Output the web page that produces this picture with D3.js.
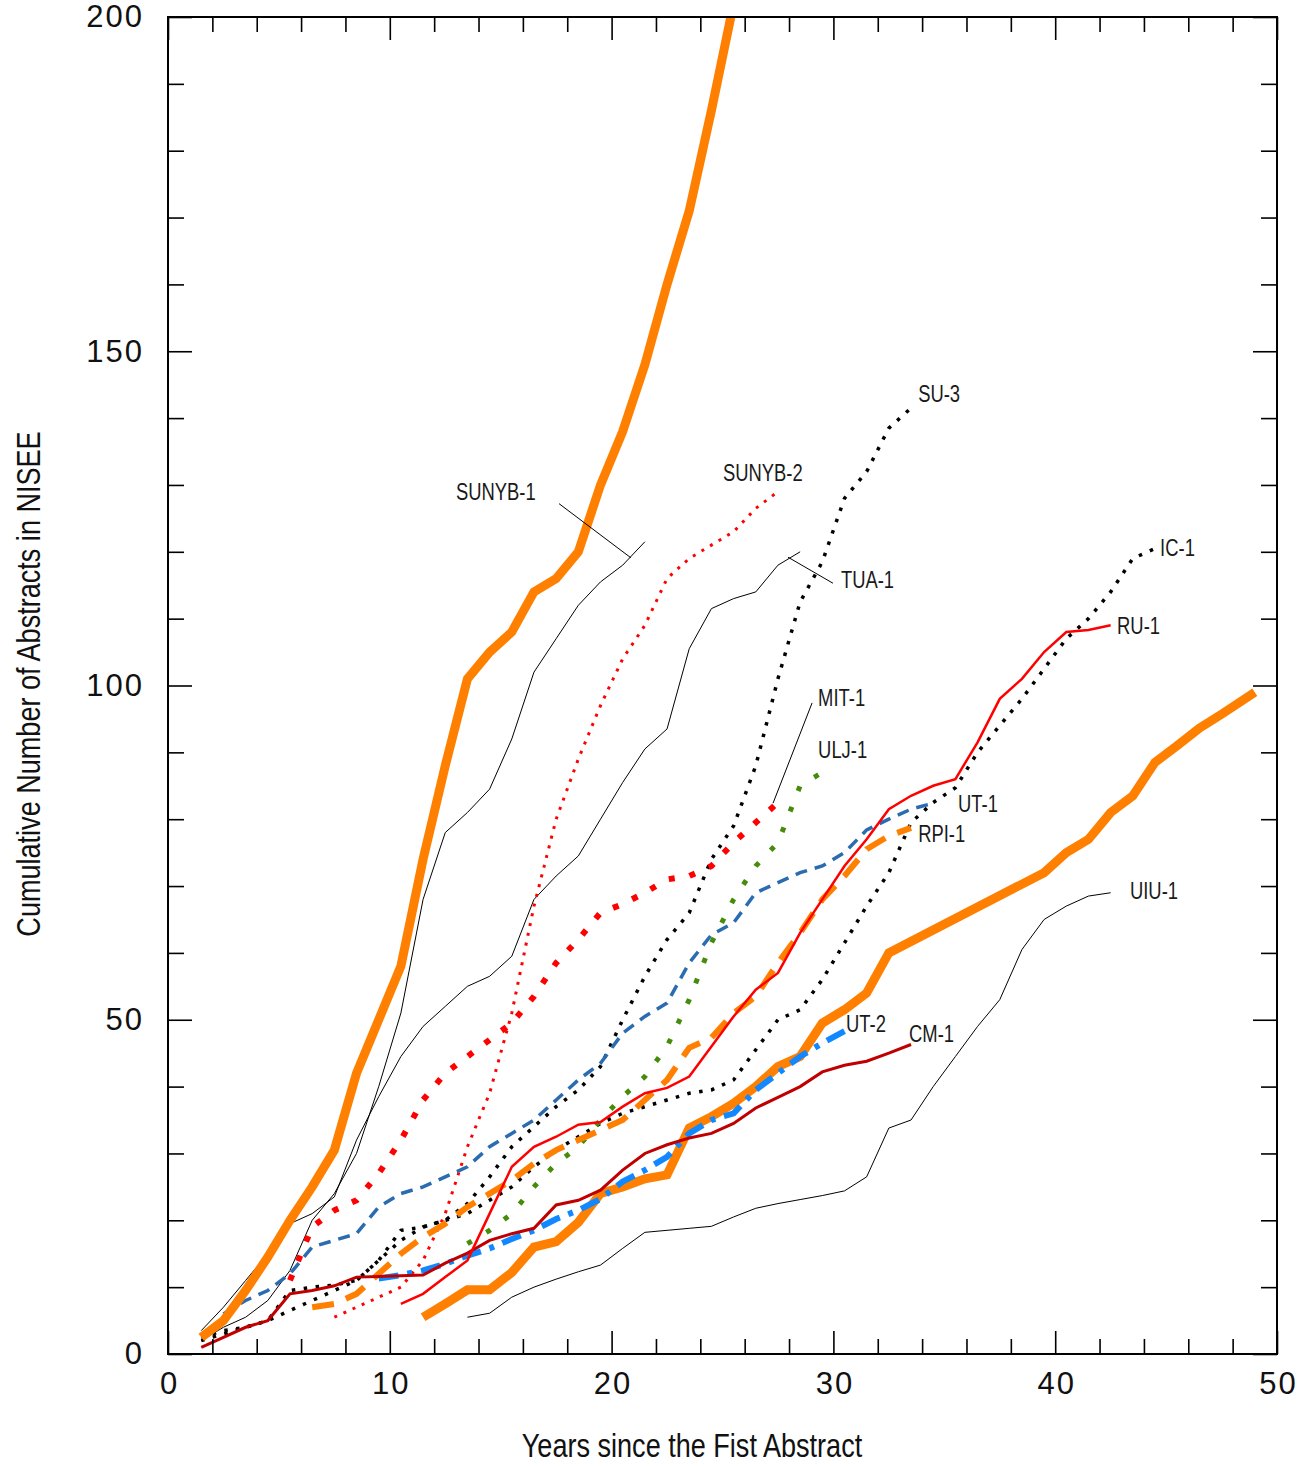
<!DOCTYPE html>
<html>
<head>
<meta charset="utf-8">
<script src="https://cdn.jsdelivr.net/npm/d3@7"></script>
<style>
  body { margin: 0; background: #fff; }
  svg { display: block; }
  text { font-family: "Liberation Sans", Arial, sans-serif; }
</style>
</head>
<body>
<script>
// ---------- data: cumulative number of abstracts per source ----------
const xTickLabels = [0, 10, 20, 30, 40, 50];
const yTickLabels = [0, 50, 100, 150, 200];
const xMinorTicks = [2, 4, 6, 8, 12, 14, 16, 18, 22, 24, 26, 28, 32, 34, 36, 38, 42, 44, 46, 48];
const yMinorTicks = [10, 20, 30, 40, 60, 70, 80, 90, 110, 120, 130, 140, 160, 170, 180, 190];

// series sampled yearly, first sample at the given start year
const orangeTopStart = 1.5;
const orangeTop = [2.5, 5, 9.5, 14.5, 20, 25, 30.5, 42, 50, 58, 74, 88, 101, 105, 108, 114, 116, 120, 130, 138, 148, 160, 171, 186, 202];

const sunyb1Start = 1.5;
const sunyb1 = [2, 4, 5.5, 8, 12.5, 20, 24, 30, 40, 51, 68, 78, 81, 84.5, 92, 102, 107, 112, 115.5, 118, 121.5];

const tua1Start = 1.5;
const tua1 = [3.5, 7, 11, 15, 19.5, 21, 23.5, 32, 38.5, 44.5, 49, 52, 55, 56.5, 59.5, 68, 71.5, 74.5, 80, 85.5, 90.5, 93.5, 105.5, 111.5, 113, 114, 118, 120];

const sunyb2Start = 7.5;
const sunyb2 = [5.5, 7, 8.5, 10, 14, 21, 31, 39, 51, 67, 80, 89, 97, 104, 109, 116, 119, 121, 123, 126.5, 129];

const su3Start = 1.5;
const su3 = [2.5, 3.5, 4, 5, 9.5, 10, 10.3, 11, 14, 18.5, 19, 20, 22.5, 26.5, 31, 34, 37, 39.5, 43, 50, 56.5, 62, 66, 74, 79, 88, 101, 112.5, 118.5, 128, 132, 138.5, 141.5];

const ic1Start = 1.5;
const ic1 = [2, 3, 4, 5, 6.5, 8, 9.5, 11, 14, 17, 19, 20, 21, 23, 25, 28, 30.5, 32.5, 34.5, 36, 37, 38, 39, 39.5, 41, 45.5, 50, 51.5, 56, 61.5, 67, 72, 79.5, 82.5, 84.7, 90, 94, 98, 102.5, 107, 110, 114, 119, 120.5];

const ru1Start = 10.5;
const ru1 = [7.5, 9, 11.5, 14, 21, 28, 31, 32.5, 34.3, 34.7, 37, 39, 39.8, 41.5, 46, 50.5, 54.5, 57, 63, 68, 73, 77, 81.5, 83.5, 85, 86, 91.5, 98, 101, 105, 108, 108.3, 109];

const mit1Start = 5.5;
const mit1 = [11, 19, 21.5, 23, 27, 32, 38, 42, 44.5, 47, 49.5, 53.5, 58.5, 62, 66, 67.3, 69, 71, 71.5, 73, 76.5, 79.5, 82.5];

const ulj1Start = 13.5;
const ulj1 = [16.5, 18.5, 21, 25, 28.5, 31, 35, 38.5, 41.5, 46, 53, 61.5, 68, 73, 76.5, 85, 87];

const ut1Start = 2.5;
const ut1 = [6, 8, 9.5, 12, 16, 17, 18, 22, 24, 25, 26.5, 28, 31, 33, 35, 38, 41, 43.5, 48, 50.5, 52.5, 58.5, 62.7, 64.5, 69, 70.5, 72, 73, 75, 78.4, 80, 81.5, 82.4];

const rpi1Start = 6.5;
const rpi1 = [7, 7.5, 9, 12, 15, 17.5, 19.5, 22, 24, 26, 28.5, 30.5, 32, 33.5, 35, 38, 41, 45.8, 47.3, 51, 53.5, 58.5, 63, 68, 71.5, 75.5, 77.5, 78.7];

const uiu1Start = 13.5;
const uiu1 = [5.5, 6.1, 8.5, 10, 11.2, 12.3, 13.3, 15.8, 18.2, 18.5, 18.8, 19.1, 20.5, 21.8, 22.5, 23.1, 23.7, 24.4, 26.5, 33.8, 35, 40, 44.5, 49, 53, 60.5, 65, 67, 68.5, 69];

const cm1Start = 1.5;
const cm1 = [1, 2.5, 4, 5, 9, 9.5, 10.2, 11.5, 11.6, 11.7, 11.8, 13.6, 15.1, 17, 18, 18.8, 22.3, 23, 24.5, 27.5, 30, 31.3, 32.3, 33, 34.5, 36.8, 38.4, 40, 42.2, 43.2, 43.8, 45, 46.3];

const ut2Start = 9.5;
const ut2 = [11.3, 11.8, 12.5, 13.5, 14.7, 15.8, 17.2, 18.5, 20.2, 21.5, 23.2, 25.8, 27.5, 29.5, 33, 35, 36, 39.5, 42, 44.5, 46.5, 48.3];

// this one has a gap in its yearly samples, so its years are listed
const orangeLowYears = [11.5, 12.5, 13.5, 14.5, 15.5, 16.5, 17.5, 18.5, 19.5, 20.5, 21.5, 22.5, 23.5, 24.5, 25.5, 26.5, 27.5, 28.5, 29.5, 30.5, 31.5, 32.5, 39.5, 40.5, 41.5, 42.5, 43.5, 44.5, 45.5, 46.5, 47.5, 49];
const orangeLow = [5.5, 7.5, 9.6, 9.6, 12.2, 16, 16.8, 19.7, 24, 25, 26.2, 26.8, 33.8, 35.5, 37.5, 40, 43, 44.5, 49.5, 51.5, 54, 60, 72, 75, 77, 81, 83.5, 88.5, 91, 93.6, 95.7, 99];

// ---------- layout ----------
const W = 1312, H = 1466;
const P = { left: 168, right: 1277, top: 17, bottom: 1354 };

const x = d3.scaleLinear().domain([0, 50]).range([P.left, P.right]);
const y = d3.scaleLinear().domain([0, 200]).range([P.bottom, P.top]);

const yearly = (start, vals) => vals.map((v, i) => [start + i, v]);
const paired = (xs, vals) => vals.map((v, i) => [xs[i], v]);

const ORANGE = "#ff8000";
const seriesDefs = [
  { pts: yearly(uiu1Start, uiu1),       stroke: "#000", width: 1 },
  { pts: yearly(tua1Start, tua1),       stroke: "#000", width: 1 },
  { pts: yearly(sunyb1Start, sunyb1),   stroke: "#000", width: 1 },
  { pts: yearly(sunyb2Start, sunyb2),   stroke: "#ff0000", width: 3, dash: "3,7" },
  { pts: yearly(su3Start, su3),         stroke: "#000", width: 3.5, dash: "3.5,8.5" },
  { pts: yearly(ic1Start, ic1),         stroke: "#000", width: 3.5, dash: "3.5,8.5" },
  { pts: yearly(ut1Start, ut1),         stroke: "#2b6cb0", width: 3.5, dash: "12,8" },
  { pts: yearly(mit1Start, mit1),       stroke: "#ff0000", width: 6, dash: "6,15" },
  { pts: yearly(ulj1Start, ulj1),       stroke: "#468c0a", width: 5, dash: "5,17" },
  { pts: yearly(rpi1Start, rpi1),       stroke: ORANGE, width: 6, dash: "22,13" },
  { pts: paired(orangeLowYears, orangeLow), stroke: ORANGE, width: 9 },
  { pts: yearly(orangeTopStart, orangeTop), stroke: ORANGE, width: 9 },
  { pts: yearly(ut2Start, ut2),         stroke: "#1188ff", width: 6, dash: "20,9,5,9" },
  { pts: yearly(cm1Start, cm1),         stroke: "#c00000", width: 3 },
  { pts: yearly(ru1Start, ru1),         stroke: "#ff0000", width: 2.5 },
];

// label anchors in data units (text start, baseline)
const labels = [
  { t: "SUNYB-1", at: [12.98, 127.7] },
  { t: "SUNYB-2", at: [25.02, 130.6] },
  { t: "SU-3",    at: [33.82, 142.4] },
  { t: "TUA-1",   at: [30.34, 114.6] },
  { t: "IC-1",    at: [44.73, 119.4] },
  { t: "RU-1",    at: [42.79, 107.7] },
  { t: "MIT-1",   at: [29.31, 96.9] },
  { t: "ULJ-1",   at: [29.31, 89.1] },
  { t: "UT-1",    at: [35.62, 81.1] },
  { t: "RPI-1",   at: [33.82, 76.6] },
  { t: "UIU-1",   at: [43.37, 68.1] },
  { t: "UT-2",    at: [30.57, 48.2] },
  { t: "CM-1",    at: [33.41, 46.7] },
];
const leaders = [
  [[17.63, 127.2], [20.87, 119.1]],
  [[27.95, 119.2], [29.98, 115.3]],
  [[29.04, 97.4], [27.28, 82.4]],
];

// narrow the text horizontally while keeping its anchor
function condense(sel, k) {
  sel.each(function () {
    const len = this.getComputedTextLength();
    d3.select(this).attr("textLength", len * k).attr("lengthAdjust", "spacingAndGlyphs");
  });
}

// ---------- drawing ----------
const svg = d3.select("body").append("svg").attr("width", W).attr("height", H);

svg.append("defs").append("clipPath").attr("id", "plot-clip")
  .append("rect")
  .attr("x", P.left).attr("y", P.top)
  .attr("width", P.right - P.left).attr("height", P.bottom - P.top);

const line = d3.line().x(d => x(d[0])).y(d => y(d[1]));

const lines = svg.append("g").attr("clip-path", "url(#plot-clip)");
seriesDefs.forEach(s => {
  lines.append("path")
    .attr("d", line(s.pts))
    .attr("fill", "none")
    .attr("stroke", s.stroke)
    .attr("stroke-width", s.width)
    .attr("stroke-dasharray", s.dash || null)
    .attr("stroke-linejoin", "miter")
    .attr("stroke-linecap", "butt");
});

// leader lines for labels
svg.append("g").selectAll("line").data(leaders).join("line")
  .attr("x1", d => x(d[0][0])).attr("y1", d => y(d[0][1]))
  .attr("x2", d => x(d[1][0])).attr("y2", d => y(d[1][1]))
  .attr("stroke", "#000").attr("stroke-width", 1);

svg.append("g").selectAll("text").data(labels).join("text")
  .attr("x", d => x(d.at[0])).attr("y", d => y(d.at[1]))
  .attr("font-size", 23).attr("fill", "#1a1a1a")
  .text(d => d.t)
  .call(condense, 0.8);

// axes: ticks point inward on all four sides
function styleAxis(g) {
  g.select(".domain").remove();
  g.selectAll(".tick line").attr("stroke", "#000").attr("stroke-width", 1.6);
  g.selectAll("text").attr("font-family", null).attr("font-size", 31)
    .attr("letter-spacing", 2).attr("fill", "#111");
}

svg.append("g").attr("transform", `translate(0,${P.bottom})`)
  .call(d3.axisBottom(x).tickValues(xTickLabels).tickSizeInner(-23).tickSizeOuter(0).tickPadding(18).tickFormat(d3.format("d")))
  .call(styleAxis)
  .call(g => g.selectAll("text").attr("dx", 1));
svg.append("g").attr("transform", `translate(0,${P.bottom})`)
  .call(d3.axisBottom(x).tickValues(xMinorTicks).tickSizeInner(-15).tickSizeOuter(0).tickFormat(""))
  .call(styleAxis);
svg.append("g").attr("transform", `translate(0,${P.top})`)
  .call(d3.axisTop(x).tickValues(xTickLabels).tickSizeInner(-23).tickSizeOuter(0).tickFormat(""))
  .call(styleAxis);
svg.append("g").attr("transform", `translate(0,${P.top})`)
  .call(d3.axisTop(x).tickValues(xMinorTicks).tickSizeInner(-15).tickSizeOuter(0).tickFormat(""))
  .call(styleAxis);

svg.append("g").attr("transform", `translate(${P.left},0)`)
  .call(d3.axisLeft(y).tickValues(yTickLabels).tickSizeInner(-24).tickSizeOuter(0).tickPadding(27).tickFormat(d3.format("d")))
  .call(styleAxis)
  .call(g => g.selectAll("text").attr("dx", 3));
svg.append("g").attr("transform", `translate(${P.left},0)`)
  .call(d3.axisLeft(y).tickValues(yMinorTicks).tickSizeInner(-16).tickSizeOuter(0).tickFormat(""))
  .call(styleAxis);
svg.append("g").attr("transform", `translate(${P.right},0)`)
  .call(d3.axisRight(y).tickValues(yTickLabels).tickSizeInner(-24).tickSizeOuter(0).tickFormat(""))
  .call(styleAxis);
svg.append("g").attr("transform", `translate(${P.right},0)`)
  .call(d3.axisRight(y).tickValues(yMinorTicks).tickSizeInner(-16).tickSizeOuter(0).tickFormat(""))
  .call(styleAxis);

// frame
svg.append("rect")
  .attr("x", P.left).attr("y", P.top)
  .attr("width", P.right - P.left).attr("height", P.bottom - P.top)
  .attr("fill", "none").attr("stroke", "#000").attr("stroke-width", 2);

// axis titles
svg.append("text")
  .attr("x", 692).attr("y", 1457)
  .attr("text-anchor", "middle").attr("font-size", 33).attr("fill", "#111")
  .text("Years since the Fist Abstract")
  .call(condense, 0.82);

svg.append("text")
  .attr("transform", `translate(40,684) rotate(-90)`)
  .attr("text-anchor", "middle").attr("font-size", 33).attr("fill", "#111")
  .text("Cumulative Number of Abstracts in NISEE")
  .call(condense, 0.82);
</script>
</body>
</html>
